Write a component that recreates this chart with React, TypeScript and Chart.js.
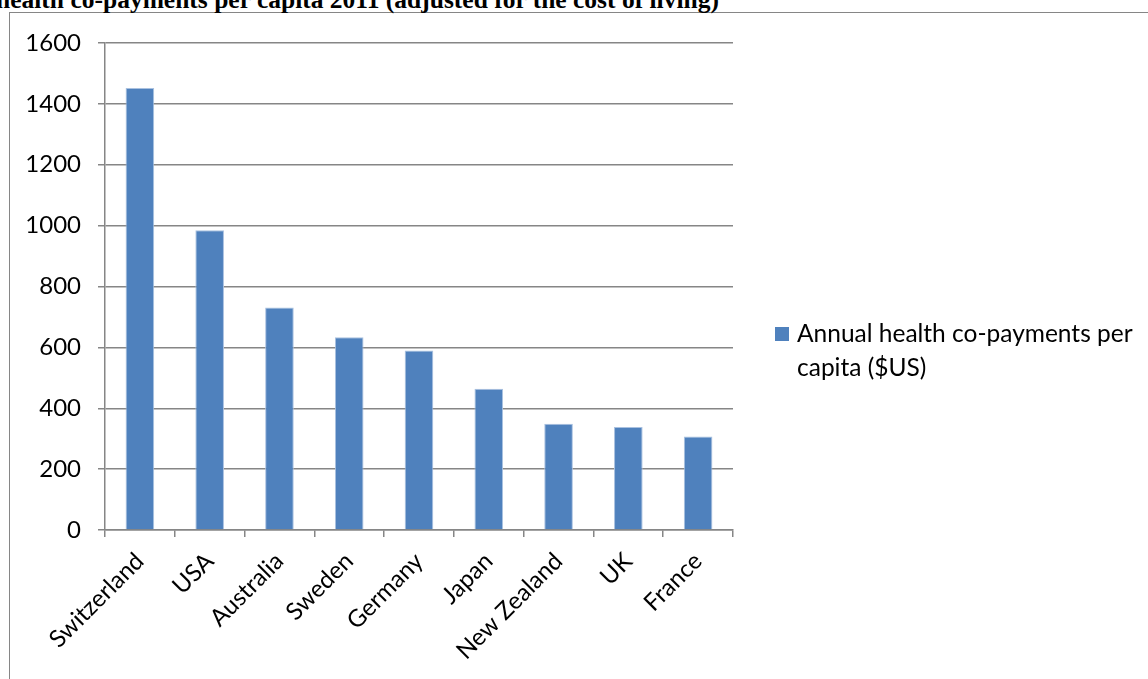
import React, { useEffect, useRef } from "react";
import { Chart, registerables } from "chart.js";

Chart.register(...registerables);

const TITLE = "health co-payments per capita 2011 (adjusted for the cost of living)";
const SERIES_LABEL = "Annual health co-payments per capita ($US)";
const LEGEND_LINES = ["Annual health co-payments per", "capita ($US)"];
const categories = ["Switzerland", "USA", "Australia", "Sweden", "Germany", "Japan", "New Zealand", "UK", "France"];
const values = [1452, 985, 731, 633, 590, 464, 349, 338, 307];
const yTicks = [0, 200, 400, 600, 800, 1000, 1200, 1400, 1600];

const FONT = "Lato, 'Open Sans', sans-serif";
const BAR = "#4F81BD";

const legendPlugin = {
  id: "sideLegend",
  afterDraw(chart: any) {
    const ctx = chart.ctx;
    const ds = chart.data.datasets[0];
    ctx.save();
    ctx.fillStyle = ds.backgroundColor;
    ctx.fillRect(775, 327, 14, 14);
    ctx.fillStyle = "#000";
    ctx.font = `24.5px ${FONT}`;
    ctx.textBaseline = "middle";
    ctx.textAlign = "left";
    LEGEND_LINES.forEach((t, i) => ctx.fillText(t, 797, 334 + i * 34));
    ctx.restore();
  },
};

export default function App() {
  const ref = useRef<HTMLCanvasElement>(null);
  useEffect(() => {
    if (!ref.current) return;
    const chart = new Chart(ref.current, {
      type: "bar",
      data: {
        labels: categories,
        datasets: [
          {
            label: SERIES_LABEL,
            data: values,
            backgroundColor: BAR,
            borderColor: "#A9C1E0",
            borderWidth: 1,
            barPercentage: 0.41,
            categoryPercentage: 1,
          },
        ],
      },
      options: {
        animation: false,
        responsive: false,
        devicePixelRatio: 1,
        layout: { padding: { left: 0, top: 43, right: 1148 - 733, bottom: 0 } },
        plugins: { legend: { display: false }, tooltip: { enabled: false }, title: { display: false } },
        scales: {
          x: {
            afterFit(scale: any) {
              scale.height = 679 - 530;
            },
            grid: { drawOnChartArea: false, drawTicks: true, tickLength: 7, color: "#868686", lineWidth: 1.5, offset: true },
            border: { color: "#868686", width: 1.5 },
            ticks: { color: "#000", font: { family: FONT, size: 24 }, minRotation: 45, maxRotation: 45, autoSkip: false, padding: 10 },
          },
          y: {
            min: 0,
            max: 1600,
            afterFit(scale: any) {
              scale.width = 105;
            },
            afterBuildTicks(scale: any) {
              scale.ticks = yTicks.map((v) => ({ value: v }));
            },
            grid: { color: "#868686", lineWidth: 1.5, tickLength: 7 },
            border: { color: "#868686", width: 1.5 },
            ticks: { color: "#000", font: { family: FONT, size: 24 }, padding: 17, callback: (v: any) => String(v) },
          },
        },
      },
      plugins: [legendPlugin],
    });
    return () => chart.destroy();
  }, []);

  return (
    <div style={{ position: "fixed", left: 0, top: 0, width: 1148, height: 679, overflow: "hidden", background: "#fff" }}>
      <div
        style={{
          position: "absolute",
          left: 9,
          top: 12,
          width: 1200,
          height: 700,
          borderLeft: "1.5px solid #868686",
          borderTop: "1.5px solid #868686",
        }}
      />
      <div
        style={{
          position: "absolute",
          left: -4,
          top: -13,
          fontFamily: "'Liberation Serif', 'Times New Roman', serif",
          fontWeight: "bold",
          fontSize: 25.5,
          lineHeight: "26px",
          whiteSpace: "nowrap",
          color: "#000",
        }}
      >
        {TITLE}
      </div>
      <canvas ref={ref} width={1148} height={679} style={{ position: "absolute", left: 0, top: 0 }} />
    </div>
  );
}
